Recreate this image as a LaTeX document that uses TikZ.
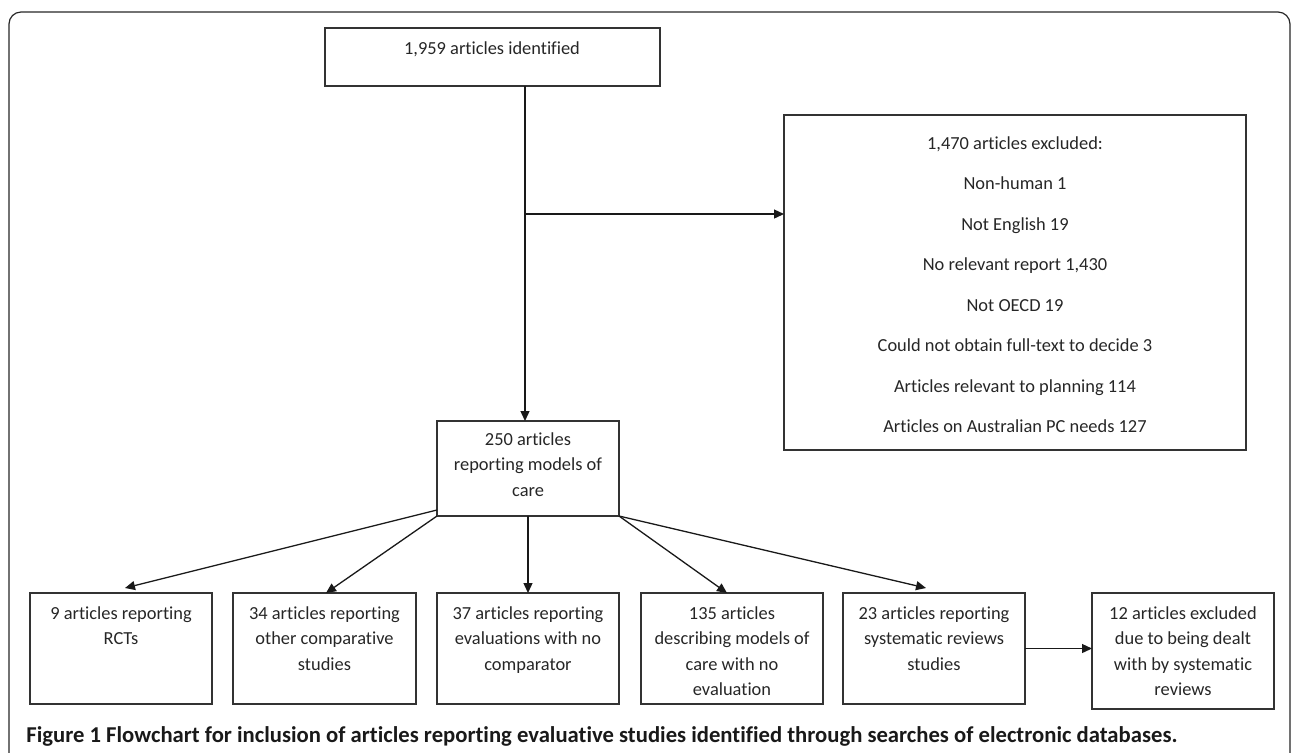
\documentclass[tikz,border=0pt]{standalone}
\usepackage{fontspec}
\setmainfont{Carlito}[Ligatures=NoCommon]
\usetikzlibrary{arrows.meta,calc}
\begin{document}
\begin{tikzpicture}[x=0.5pt,y=-0.5pt,
  box/.style={draw=black!80, line width=0.7pt, inner sep=0pt, outer sep=0pt, anchor=north west},
  txt/.style={font=\fontsize{9.2}{12.75}\selectfont, align=center, inner sep=0pt, anchor=north, text=black!85},
  arr/.style={draw=black!90, line width=0.65pt, -{Triangle[length=5pt,width=4.5pt]}},
]
\useasboundingbox (0,0) rectangle (1292,752);
\clip (0,0) rectangle (1292,752);
\draw[black!85, line width=0.6pt, rounded corners=6pt] (9,790) -- (9,12) -- (1290,12) -- (1290,790);

% boxes
\node[box, minimum width=167.5pt, minimum height=29pt] (top) at (325,28) {};
\node[box, minimum width=231pt, minimum height=167.5pt] (excl) at (784,115) {};
\node[box, minimum width=91pt, minimum height=47.5pt] (mid) at (437,421) {};
\node[box, minimum width=91pt, minimum height=55.5pt] (b1) at (30,593) {};
\node[box, minimum width=91.5pt, minimum height=55.5pt] (b2) at (233,593) {};
\node[box, minimum width=91pt, minimum height=55.5pt] (b3) at (437,593) {};
\node[box, minimum width=91pt, minimum height=55.5pt] (b4) at (641,593) {};
\node[box, minimum width=91pt, minimum height=55.5pt] (b5) at (843,593) {};
\node[box, minimum width=91pt, minimum height=58pt] (b6) at (1092,593) {};

% texts
\node[txt] (ttop) at (492,36.15) {\strut 1,959 articles identified};
\node[txt, font=\fontsize{9.2}{20.25}\selectfont] (texcl) at (1015,120.65) {\strut 1,470 articles excluded:\\Non-human 1\\Not English 19\\No relevant report 1,430\\Not OECD 19\\Could not obtain full-text to decide 3\\Articles relevant to planning 114\\Articles on Australian PC needs 127};
\node[txt] (tmid) at (528,427.2) {\strut 250 articles\\reporting models of\\care};
\node[txt] (tb1) at (121,601.2) {\strut 9 articles reporting\\RCTs};
\node[txt] (tb2) at (324.5,601.2) {\strut 34 articles reporting\\other comparative\\studies};
\node[txt] (tb3) at (528,601.2) {\strut 37 articles reporting\\evaluations with no\\comparator};
\node[txt] (tb4) at (732,601.2) {\strut 135 articles\\describing models of\\care with no\\evaluation};
\node[txt] (tb5) at (934,601.2) {\strut 23 articles reporting\\systematic reviews\\studies};
\node[txt] (tb6) at (1183,601.2) {\strut 12 articles excluded\\due to being dealt\\with by systematic\\reviews};

\node[anchor=base west, inner sep=0pt, text=black!90] (cap) at (26,742)
  {\resizebox{575.5pt}{!}{\bfseries Figure 1 Flowchart for inclusion of articles reporting evaluative studies identified through searches of electronic databases.}};

% connectors
\coordinate (v) at (525,214);
\draw[arr] (top.south -| v) -- (mid.north -| v);
\draw[arr] (v) -- (v -| excl.west);
\draw[arr] ($(mid.south west)+(0,-6)$) -- ($(b1.north)+(4,-5)$);
\draw[arr] (mid.south west) -- ($(b2.north)+(1.5,0)$);
\draw[arr] (mid.south) -- (b3.north);
\draw[arr] (mid.south east) -- ($(b4.north)+(-5,0)$);
\draw[arr] (mid.south east) -- ($(b5.north)+(-8,-5)$);
\draw[arr] (b5.east) -- (b5.east -| b6.west);
\end{tikzpicture}
\end{document}
